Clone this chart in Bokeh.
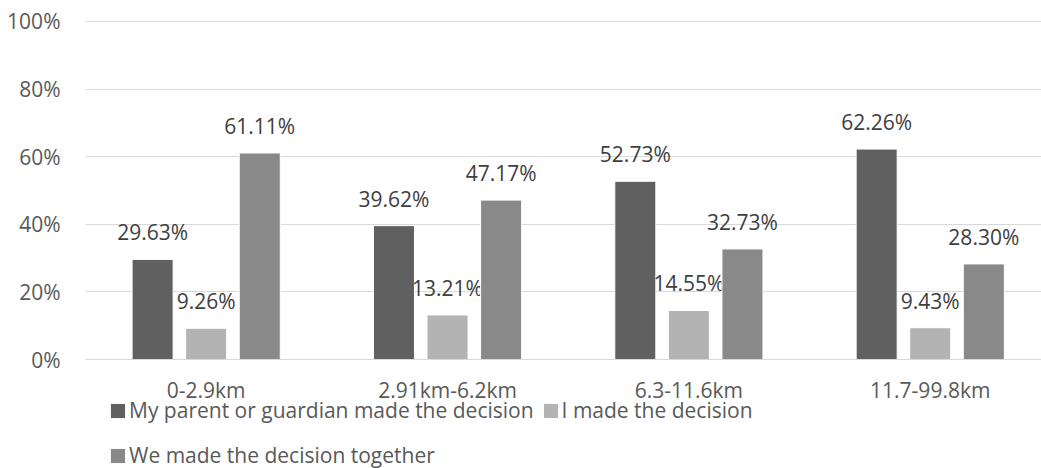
from bokeh.plotting import figure
from bokeh.models import (ColumnDataSource, Range1d, FixedTicker, Legend, LegendItem)
from bokeh.embed import file_html
from bokeh.resources import INLINE
from bokeh.core.properties import value

# Distance bands and share of answers per decision type (%)
categories = ["0-2.9km", "2.91km-6.2km", "6.3-11.6km", "11.7-99.8km"]
parent_decided = [29.63, 39.62, 52.73, 62.26]
i_decided = [9.26, 13.21, 14.55, 9.43]
decided_together = [61.11, 47.17, 32.73, 28.30]
series_names = ["My parent or guardian made the decision", "I made the decision",
                "We made the decision together"]
y_ticks = [0, 20, 40, 60, 80, 100]

colors = ["#606060", "#b3b3b3", "#898989"]
offsets = [-0.222, 0.0, 0.222]
FONT = "Open Sans"
FS = "21px"

# The plot area runs to the bottom edge so the legend can sit under the
# category labels; the category axis is pinned to y = 0.
p = figure(width=1041, height=468, output_backend="svg", toolbar_location=None,
           x_range=Range1d(-0.5, 3.461), y_range=Range1d(-32.2, 106.2),
           min_border_left=85, min_border_right=0, min_border_top=0,
           min_border_bottom=0)
p.outline_line_color = None
p.background_fill_color = "white"
p.border_fill_color = "white"

bars = []
for vals, col, off in zip([parent_decided, i_decided, decided_together], colors, offsets):
    src = ColumnDataSource(dict(
        x=[i + off for i in range(len(categories))],
        top=vals,
        lab=[f"{v:.2f}%" for v in vals],
    ))
    bars.append(p.vbar(x="x", top="top", width=0.17, source=src, fill_color=col,
                       line_color="white", line_width=1))
    p.text(x="x", y="top", text="lab", source=src, text_align="center",
           text_baseline="middle", y_offset=-27, text_font=value(FONT),
           text_font_size=FS, text_color="#404040")

# Axes
p.xaxis.fixed_location = 0
p.xaxis.ticker = FixedTicker(ticks=list(range(len(categories))))
p.xaxis.major_label_overrides = {i: c for i, c in enumerate(categories)}
p.xaxis.axis_line_color = "#d9d9d9"
p.xaxis.major_tick_line_color = None
p.xaxis.minor_tick_line_color = None
p.xaxis.major_label_standoff = 10
p.xaxis.major_label_text_font = FONT
p.xaxis.major_label_text_font_size = FS
p.xaxis.major_label_text_color = "#595959"

p.yaxis.ticker = FixedTicker(ticks=y_ticks)
p.yaxis.major_label_overrides = {t: f"{t}%" for t in y_ticks}
p.yaxis.axis_line_color = None
p.yaxis.major_tick_line_color = None
p.yaxis.minor_tick_line_color = None
p.yaxis.major_label_standoff = 19
p.yaxis.major_label_text_font = FONT
p.yaxis.major_label_text_font_size = FS
p.yaxis.major_label_text_color = "#595959"

p.xgrid.grid_line_color = None
p.ygrid.grid_line_color = "#d9d9d9"
p.ygrid.grid_line_width = 1

# Legend: two entries on the first row, the third on its own row
def make_legend(items, loc):
    return Legend(items=items, orientation="horizontal", location=loc,
                  label_text_font=FONT, label_text_font_size=FS,
                  label_text_color="#595959", glyph_width=19, glyph_height=19,
                  label_standoff=2, spacing=7, padding=0, margin=0,
                  border_line_color=None, background_fill_alpha=0)

p.add_layout(make_legend([LegendItem(label=series_names[0], renderers=[bars[0]]),
                          LegendItem(label=series_names[1], renderers=[bars[1]])],
                         (23, 44)), "center")
p.add_layout(make_legend([LegendItem(label=series_names[2], renderers=[bars[2]])],
                         (23, -1)), "center")

open("out.html", "w").write(file_html(p, INLINE))
